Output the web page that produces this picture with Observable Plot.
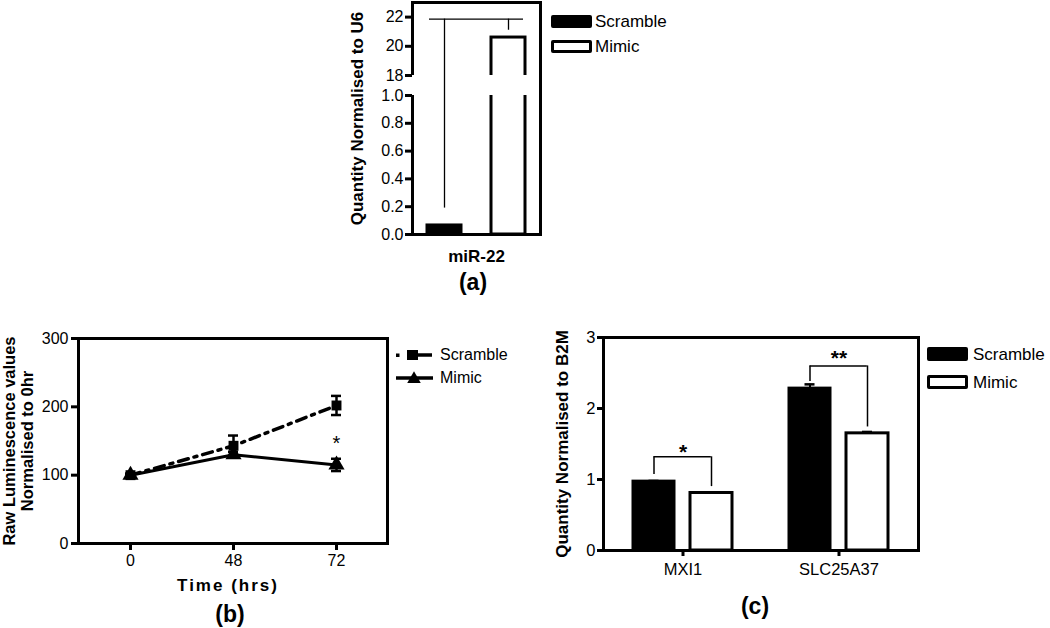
<!DOCTYPE html>
<html>
<head>
<meta charset="utf-8">
<script src="https://cdn.jsdelivr.net/npm/d3@7"></script>
<script src="https://cdn.jsdelivr.net/npm/@observablehq/plot@0.6"></script>
<style>
  html, body { margin: 0; padding: 0; background: #fff; }
  #fig { position: relative; width: 1050px; height: 628px; overflow: hidden; background: #fff;
         font-family: "Liberation Sans", Arial, Helvetica, sans-serif; color: #000; }
  .tag { position: absolute; font-weight: bold; font-size: 23px; transform: translate(-50%, -50%); white-space: nowrap; }
</style>
</head>
<body>
<div id="fig"></div>
<script>
// ---------------- DATA ----------------
// Panel (a): miR-22 expression
const aCategory = ["miR-22"];
const aSeries = ["Scramble", "Mimic"];
const aValues = [0.065, 20.6];
const aBreak = [1, 18];
const aTicks = [0, 0.2, 0.4, 0.6, 0.8, 1.0, 18, 20, 22];
const aBracket = [0.19, 21.86, 21.1]; // scramble foot, top, mimic foot

// Panel (b): luminescence over time
const bTimes = [0, 48, 72];
const bSeries = ["Scramble", "Mimic"];
const bScramble = [100, 143, 202];
const bScrambleErr = [2, 15, 14];
const bMimic = [100, 130, 115];
const bMimicErr = [2, 4, 9];
const bTicks = [0, 100, 200, 300];
const bStar = [{time: 72, y: 154, label: "*"}];

// Panel (c): target genes
const cGenes = ["MXI1", "SLC25A37"];
const cScramble = [0.97, 2.28];
const cScrambleErr = [0.01, 0.06];
const cMimic = [0.81, 1.65];
const cMimicErr = [0.01, 0.02];
const cTicks = [0, 1, 2, 3];
const cBracketTop = [1.32, 2.60];
const cBracketLeft = [1.07, 2.38];
const cBracketRight = [0.90, 1.74];
const cSigLabels = ["*", "**"];
const cSigY = [1.455, 2.775];

const seriesFill = ["#000", "#fff"];

// ---------------- HELPERS ----------------
const FONT = '"Liberation Sans", Arial, Helvetica, sans-serif';
const root = document.getElementById("fig");
function place(node, left, top) {
  const w = document.createElement("div");
  w.style.position = "absolute";
  w.style.left = left + "px";
  w.style.top = top + "px";
  w.appendChild(node);
  root.appendChild(w);
  return w;
}
function tag(text, cx, cy) {
  const d = document.createElement("div");
  d.className = "tag";
  d.style.left = cx + "px";
  d.style.top = cy + "px";
  d.textContent = text;
  root.appendChild(d);
}
function boxLegend(left, top, rowGap, w, h, fontSize, textGap) {
  aSeries.forEach((s, i) => {
    const row = document.createElement("div");
    row.style.cssText = `position:absolute;left:${left}px;top:${top + i * rowGap}px;height:${h}px;display:flex;align-items:center;white-space:nowrap;font-size:${fontSize}px;line-height:1`;
    const sw = document.createElement("span");
    sw.style.cssText = `display:inline-block;flex:none;box-sizing:border-box;width:${w}px;height:${h}px;background:${seriesFill[i]};border:3px solid #000;border-radius:2px;margin-right:${textGap}px`;
    row.append(sw, document.createTextNode(s));
    root.appendChild(row);
  });
}
const baseStyle = {fontFamily: FONT, fontSize: "16px", color: "#000", background: "transparent", overflow: "visible"};

// ---------------- PANEL (a) ----------------
const aRows = aSeries.map((s, i) => ({cat: aCategory[0], series: s, value: aValues[i]}));
const aBr = [{cat: aCategory[0], foot1: aBracket[0], top: aBracket[1], foot2: aBracket[2]}];
const plotA = Plot.plot({
  width: 210, height: 270,
  marginLeft: 72, marginRight: 10, marginTop: 2, marginBottom: 36,
  style: baseStyle,
  x: {type: "band", domain: aCategory, paddingInner: 0.2, paddingOuter: 0.1225},
  y: {type: "linear", domain: [0, aBreak[0], aBreak[1], 23], range: [234, 95, 75, 2]},
  marks: [
    Plot.barY(aRows.filter(d => d.series === "Scramble"), {x: "cat", y: "value", fill: "#000", stroke: "#000", strokeWidth: 3, insetRight: 64}),
    Plot.barY(aRows.filter(d => d.series === "Mimic"), {x: "cat", y: "value", fill: "#fff", stroke: "#000", strokeWidth: 3, insetLeft: 64}),
    Plot.frame({stroke: "#000", strokeWidth: 3}),
    Plot.rect([aBreak], {y1: d => d[0], y2: d => d[1], fill: "#fff", insetLeft: -6, insetRight: 3}),
    Plot.ruleX(aBr, {x: "cat", y1: "foot1", y2: "top", dx: -32, stroke: "#000", strokeWidth: 1.3}),
    Plot.ruleX(aBr, {x: "cat", y1: "foot2", y2: "top", dx: 32, stroke: "#000", strokeWidth: 1.3}),
    Plot.ruleY(aBr, {x1: "cat", x2: "cat", y: "top", insetLeft: 17, insetRight: 17, stroke: "#000", strokeWidth: 1.3}),
    Plot.axisY({ticks: aTicks, tickFormat: d => d < 2 ? d.toFixed(1) : String(d), tickSize: 7, tickPadding: 2, strokeWidth: 3, label: null, fontSize: 16}),
    Plot.axisX({tickSize: 0, tickPadding: 15, label: null, fontSize: 17, fontWeight: "bold"}),
    Plot.text(["Quantity Normalised to U6"], {text: d => d, frameAnchor: "left", textAnchor: "middle", lineAnchor: "middle", rotate: -90, dx: -55, fontSize: 17, fontWeight: "bold"})
  ]
});
place(plotA, 340, 0);
boxLegend(551, 15, 25, 41, 13, 17, 3);
tag("(a)", 473, 282);

// ---------------- PANEL (b) ----------------
const bScr = bTimes.map((t, i) => ({time: t, value: bScramble[i], err: bScrambleErr[i]}));
const bMim = bTimes.map((t, i) => ({time: t, value: bMimic[i], err: bMimicErr[i]}));
const bAll = bScr.concat(bMim);
const plotB = Plot.plot({
  width: 400, height: 308,
  marginLeft: 78, marginRight: 13, marginTop: 18, marginBottom: 85,
  style: baseStyle,
  x: {type: "point", domain: bTimes, padding: 0.5},
  y: {domain: [0, 300]},
  marks: [
    Plot.frame({stroke: "#000", strokeWidth: 3}),
    Plot.line(bScr, {x: "time", y: "value", stroke: "#000", strokeWidth: 3.5, strokeDasharray: "10,6,3,6"}),
    Plot.line(bMim, {x: "time", y: "value", stroke: "#000", strokeWidth: 3}),
    Plot.ruleX(bAll, {x: "time", y1: d => d.value - d.err, y2: d => d.value + d.err, stroke: "#000", strokeWidth: 2.5}),
    Plot.ruleY(bAll, {x1: "time", x2: "time", y: d => d.value + d.err, insetLeft: -5, insetRight: -5, stroke: "#000", strokeWidth: 2.5}),
    Plot.ruleY(bAll, {x1: "time", x2: "time", y: d => d.value - d.err, insetLeft: -5, insetRight: -5, stroke: "#000", strokeWidth: 2.5}),
    Plot.dot(bMim, {x: "time", y: "value", symbol: "triangle", r: 6, fill: "#000"}),
    Plot.dot(bScr, {x: "time", y: "value", symbol: "square", r: 5.6, fill: "#000"}),
    Plot.text(bStar, {x: "time", y: "y", text: "label", fontSize: 20, dy: 5}),
    Plot.axisY({ticks: bTicks, tickSize: 7, tickPadding: 3, strokeWidth: 3, label: null, fontSize: 16}),
    Plot.axisX({ticks: bTimes, tickSize: 7, tickPadding: 4, strokeWidth: 3, label: null, fontSize: 16}),
    Plot.text(["Raw Luminescence values\nNormalised to 0hr"], {text: d => d, frameAnchor: "left", textAnchor: "middle", lineAnchor: "middle", rotate: -90, dx: -60, fontSize: 16.5, fontWeight: "bold", lineHeight: 1.05}),
    Plot.text(["Time (hrs)"], {text: d => d, frameAnchor: "bottom", textAnchor: "middle", lineAnchor: "middle", dy: 42, dx: -5, fontSize: 17, fontWeight: "bold"})
  ]
});
d3.select(plotB).selectAll("text").filter(function() { return this.textContent === "Time (hrs)"; }).style("letter-spacing", "2px");
place(plotB, 0, 320);
tag("(b)", 230, 614);

// legend (b): line + marker icons
bSeries.forEach((s, i) => {
  const row = document.createElement("div");
  row.style.cssText = `position:absolute;left:396px;top:${348 + i * 23}px;height:14px;display:flex;align-items:center;white-space:nowrap;font-size:16px;line-height:1`;
  const svg = d3.create("svg").attr("width", 40).attr("height", 14).style("margin-right", "4px").style("flex", "none");
  if (i === 0) {
    svg.append("rect").attr("x", 0).attr("y", 5.5).attr("width", 3.5).attr("height", 3.5).attr("fill", "#000");
    svg.append("line").attr("x1", 16).attr("x2", 36).attr("y1", 7).attr("y2", 7).attr("stroke", "#000").attr("stroke-width", 3.5);
    svg.append("rect").attr("x", 11).attr("y", 2).attr("width", 11).attr("height", 10).attr("fill", "#000");
  } else {
    svg.append("line").attr("x1", 0).attr("x2", 37).attr("y1", 7).attr("y2", 7).attr("stroke", "#000").attr("stroke-width", 3.5);
    svg.append("path").attr("d", d3.symbol(d3.symbolTriangle, 80)()).attr("transform", "translate(18,8)").attr("fill", "#000");
  }
  row.append(svg.node(), document.createTextNode(s));
  root.appendChild(row);
});

// ---------------- PANEL (c) ----------------
const cRows = cGenes.map((g, i) => ({
  gene: g, scr: cScramble[i], scrErr: cScrambleErr[i], mim: cMimic[i], mimErr: cMimicErr[i],
  top: cBracketTop[i], left: cBracketLeft[i], right: cBracketRight[i], sig: cSigLabels[i], sigY: cSigY[i]
}));
const plotC = Plot.plot({
  width: 362, height: 308,
  marginLeft: 43, marginRight: 4, marginTop: 17, marginBottom: 78,
  style: baseStyle,
  x: {type: "band", domain: cGenes, paddingInner: 0.365, paddingOuter: 0.19},
  y: {domain: [0, 3]},
  marks: [
    Plot.ruleX(cRows, {x: "gene", y1: "scr", y2: d => d.scr + d.scrErr, dx: -29, stroke: "#000", strokeWidth: 2}),
    Plot.tickY(cRows, {x: "gene", y: d => d.scr + d.scrErr, insetLeft: 15.5, insetRight: 73.5, stroke: "#000", strokeWidth: 2.5}),
    Plot.ruleX(cRows, {x: "gene", y1: "mim", y2: d => d.mim + d.mimErr, dx: 28.5, stroke: "#000", strokeWidth: 2}),
    Plot.tickY(cRows, {x: "gene", y: d => d.mim + d.mimErr, insetLeft: 73, insetRight: 16, stroke: "#000", strokeWidth: 2.5}),
    Plot.barY(cRows, {x: "gene", y: "scr", fill: "#000", stroke: "#000", strokeWidth: 3, insetRight: 58}),
    Plot.barY(cRows, {x: "gene", y: "mim", fill: "#fff", stroke: "#000", strokeWidth: 3, insetLeft: 57}),
    Plot.ruleX(cRows, {x: "gene", y1: "left", y2: "top", dx: -29, stroke: "#000", strokeWidth: 1.5}),
    Plot.ruleX(cRows, {x: "gene", y1: "right", y2: "top", dx: 28.5, stroke: "#000", strokeWidth: 1.5}),
    Plot.ruleY(cRows, {x1: "gene", x2: "gene", y: "top", insetLeft: 20.6, insetRight: 21.2, stroke: "#000", strokeWidth: 1.5}),
    Plot.text(cRows, {x: "gene", y: "sigY", text: "sig", fontSize: 21, fontWeight: "bold", dy: 5}),
    Plot.frame({stroke: "#000", strokeWidth: 3}),
    Plot.axisY({ticks: cTicks, tickFormat: d => String(d), tickSize: 6, tickPadding: 2, strokeWidth: 3, label: null, fontSize: 16.5}),
    Plot.axisX({tickSize: 6, tickPadding: 7, strokeWidth: 3, label: null, fontSize: 16.5}),
    Plot.text(["Quantity Normalised to B2M"], {text: d => d, frameAnchor: "left", textAnchor: "middle", lineAnchor: "middle", rotate: -90, dx: -41, fontSize: 17, fontWeight: "bold"})
  ]
});
place(plotC, 560, 320);
boxLegend(927, 347, 28, 41, 14, 17, 5);
tag("(c)", 755, 606);
</script>
</body>
</html>
